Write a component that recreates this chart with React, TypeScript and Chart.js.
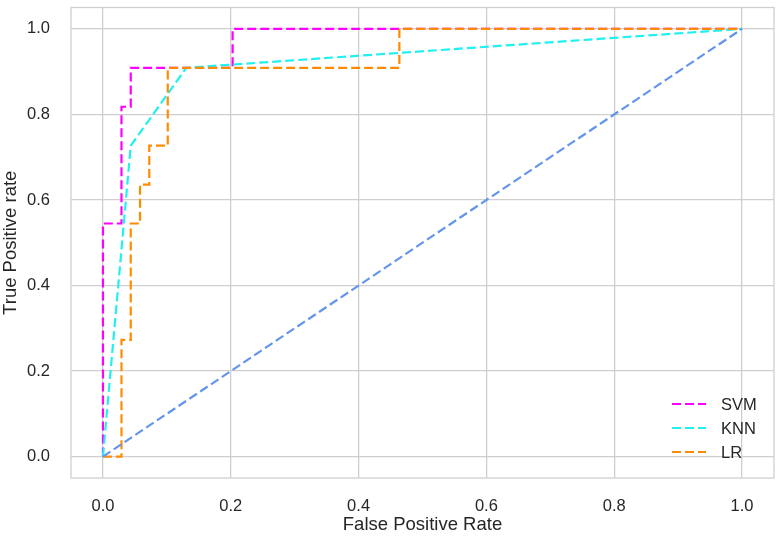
import React, { useEffect, useRef } from "react";
import { Chart, registerables } from "chart.js";

Chart.register(...registerables);

// ROC data
const svmFpr = [0, 0, 0.029, 0.029, 0.0435, 0.0435, 0.2029, 0.2029, 1];
const svmTpr = [0, 0.545, 0.545, 0.818, 0.818, 0.909, 0.909, 1, 1];
const knnFpr = [0, 0.0435, 0.1304, 1];
const knnTpr = [0, 0.727, 0.909, 1];
const lrFpr = [0, 0.029, 0.029, 0.0435, 0.0435, 0.058, 0.058, 0.0725, 0.0725, 0.1014, 0.1014, 0.4638, 0.4638, 1];
const lrTpr = [0, 0, 0.273, 0.273, 0.545, 0.545, 0.636, 0.636, 0.727, 0.727, 0.909, 0.909, 1, 1];
const chanceFpr = [0, 1];
const chanceTpr = [0, 1];
const seriesNames = ["SVM", "KNN", "LR"];
const seriesColors = ["#ff00ff", "#22f0f0", "#ff8c00"];
const chanceColor = "#6495ed";
const xTicks = [0, 0.2, 0.4, 0.6, 0.8, 1.0];
const yTicks = [0, 0.2, 0.4, 0.6, 0.8, 1.0];
const xTitle = "False Positive Rate";
const yTitle = "True Positive rate";

const FONT = "'Liberation Sans', Arial, sans-serif";
const TEXT = "#262626";
const GRID = "#cfcfcf";
const DASH = [9, 4];

const pts = (xs: number[], ys: number[]) => xs.map((x, i) => ({ x, y: ys[i] }));

const framePlugin = {
  id: "frame",
  beforeDatasetsDraw(chart: any) {
    const { ctx, chartArea } = chart;
    ctx.save();
    ctx.strokeStyle = GRID;
    ctx.lineWidth = 1.3;
    ctx.strokeRect(chartArea.left, chartArea.top, chartArea.right - chartArea.left, chartArea.bottom - chartArea.top);
    ctx.restore();
  },
};

const legendPlugin = {
  id: "innerLegend",
  afterDatasetsDraw(chart: any) {
    const { ctx, chartArea } = chart;
    const items = chart.data.datasets.filter((d: any) => d.inLegend);
    const n = items.length;
    const textX = chartArea.right - 53;
    ctx.save();
    ctx.font = `16.5px ${FONT}`;
    ctx.textBaseline = "middle";
    ctx.textAlign = "left";
    items.forEach((d: any, i: number) => {
      const y = chartArea.bottom - 26 - (n - 1 - i) * 24;
      ctx.strokeStyle = d.borderColor;
      ctx.lineWidth = 2.2;
      ctx.setLineDash(DASH);
      ctx.beginPath();
      ctx.moveTo(textX - 49, y);
      ctx.lineTo(textX - 15, y);
      ctx.stroke();
      ctx.setLineDash([]);
      ctx.fillStyle = TEXT;
      ctx.fillText(d.label, textX, y + 1);
    });
    ctx.restore();
  },
};

export default function App() {
  const ref = useRef<HTMLCanvasElement | null>(null);

  useEffect(() => {
    if (!ref.current) return;
    const line = (label: string, data: any[], color: string, order: number, inLegend: boolean) => ({
      label,
      data,
      borderColor: color,
      backgroundColor: color,
      borderWidth: 2.2,
      borderDash: DASH,
      showLine: true,
      pointRadius: 0,
      pointHoverRadius: 0,
      fill: false,
      tension: 0,
      order,
      inLegend,
    });
    const chart = new Chart(ref.current, {
      type: "scatter",
      data: {
        datasets: [
          line(seriesNames[0], pts(svmFpr, svmTpr), seriesColors[0], 4, true),
          line(seriesNames[1], pts(knnFpr, knnTpr), seriesColors[1], 3, true),
          line(seriesNames[2], pts(lrFpr, lrTpr), seriesColors[2], 2, true),
          line("chance", pts(chanceFpr, chanceTpr), chanceColor, 1, false),
        ] as any,
      },
      options: {
        animation: false,
        responsive: false,
        events: [],
        layout: { padding: { left: 0, right: 3, top: 7.5, bottom: 0 } },
        plugins: {
          legend: { display: false },
          tooltip: { enabled: false },
        },
        scales: {
          x: {
            type: "linear",
            min: -0.05,
            max: 1.05,
            afterBuildTicks: (s: any) => {
              s.ticks = xTicks.map((v) => ({ value: v }));
            },
            afterFit: (s: any) => {
              s.height = 59;
              s.paddingLeft = 0;
              s.paddingRight = 0;
              s.paddingTop = 0;
              s.paddingBottom = 0;
            },
            ticks: {
              callback: (v: any) => Number(v).toFixed(1),
              font: { family: FONT, size: 16.5 },
              color: TEXT,
              padding: 19,
              maxRotation: 0,
              autoSkip: false,
            },
            grid: { color: GRID, lineWidth: 1.3, drawTicks: false },
            border: { display: false },
            title: {
              display: true,
              text: xTitle,
              color: TEXT,
              font: { family: FONT, size: 18.5 },
              padding: { top: 0, bottom: 1 },
            },
          },
          y: {
            type: "linear",
            min: -0.05,
            max: 1.05,
            afterBuildTicks: (s: any) => {
              s.ticks = yTicks.map((v) => ({ value: v }));
            },
            afterFit: (s: any) => {
              s.width = 71;
              s.paddingLeft = 0;
              s.paddingRight = 0;
              s.paddingTop = 0;
              s.paddingBottom = 0;
            },
            ticks: {
              callback: (v: any) => Number(v).toFixed(1),
              font: { family: FONT, size: 16.5 },
              color: TEXT,
              padding: 21,
              autoSkip: false,
            },
            grid: { color: GRID, lineWidth: 1.3, drawTicks: false },
            border: { display: false },
            title: {
              display: true,
              text: yTitle,
              color: TEXT,
              font: { family: FONT, size: 18.5 },
              padding: { top: 0, bottom: 0 },
            },
          },
        },
      } as any,
      plugins: [framePlugin, legendPlugin],
    });
    return () => chart.destroy();
  }, []);

  return (
    <div style={{ position: "absolute", left: 0, top: 0, width: 777, height: 537, background: "#fff" }}>
      <canvas ref={ref} width={777} height={537} style={{ display: "block", width: 777, height: 537 }} />
    </div>
  );
}
